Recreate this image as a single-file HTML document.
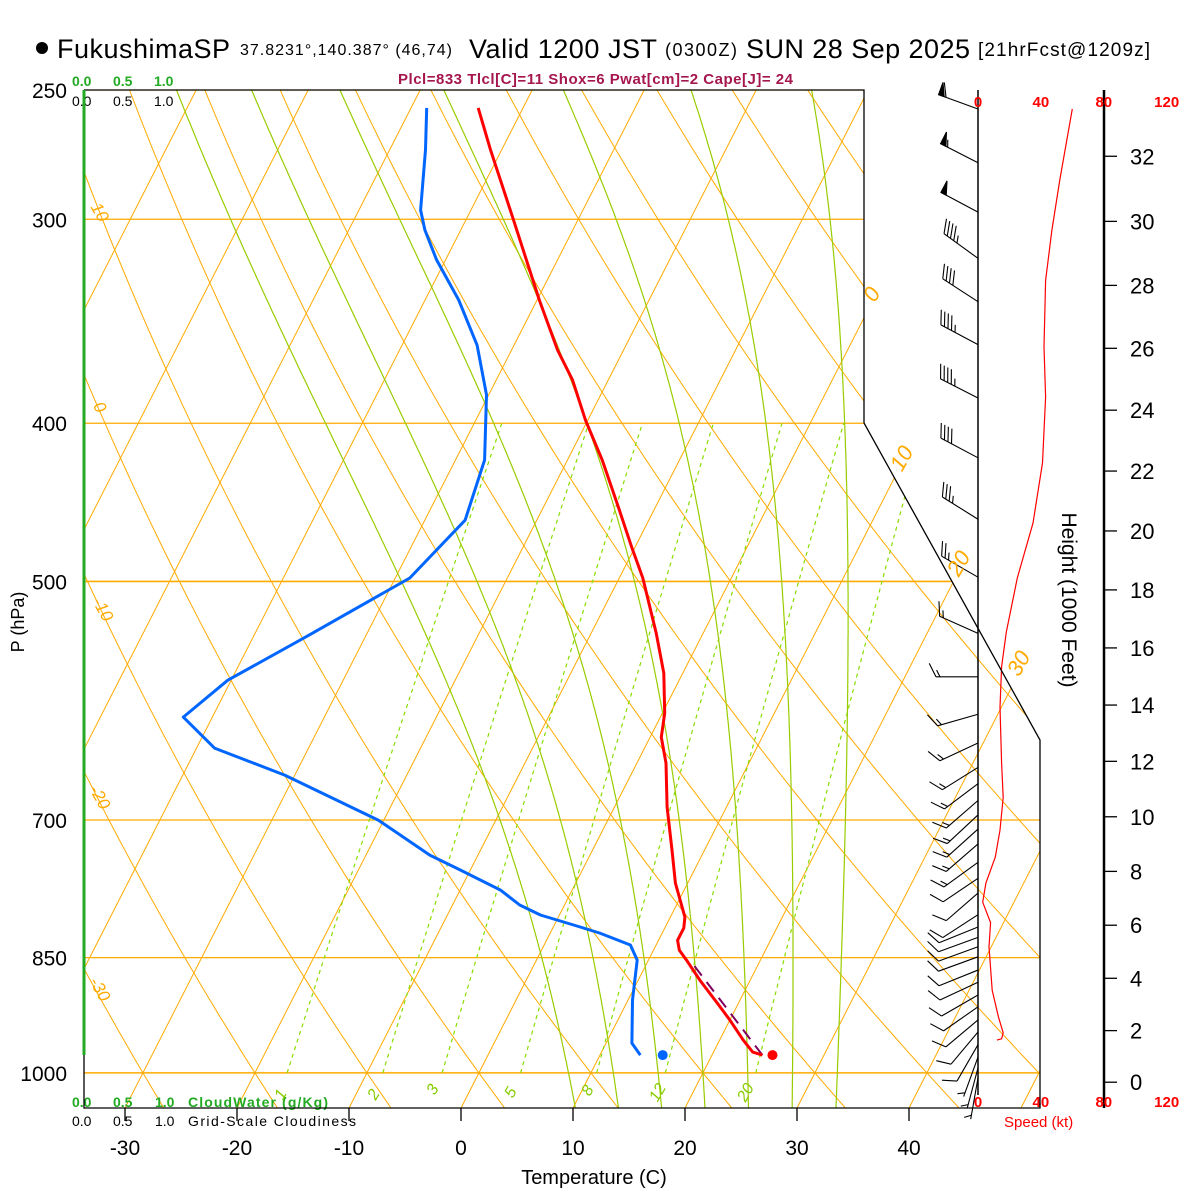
<!DOCTYPE html>
<html><head><meta charset="utf-8"><style>
html,body{margin:0;padding:0;background:#fff;}
svg{display:block;font-family:"Liberation Sans",sans-serif;}
</style></head><body>
<svg id="c" width="1200" height="1200" viewBox="0 0 1200 1200" xmlns="http://www.w3.org/2000/svg">
<defs><clipPath id="pc"><polygon points="84,90 864,90 864,423 1040,740 1040,1108 84,1108"/></clipPath></defs>
<rect x="0" y="0" width="1200" height="1200" fill="#fff"/>
<g id="grid" clip-path="url(#pc)"></g>
<g id="prof"></g>
<g id="wind"></g>
<g id="txt">
<circle cx="42" cy="48" r="6" fill="#000"/>
<text x="57" y="58" font-size="27" textLength="173">FukushimaSP</text>
<text x="240" y="55" font-size="16" textLength="212">37.8231°,140.387° (46,74)</text>
<text x="469" y="58" font-size="27" textLength="188">Valid 1200 JST</text>
<text x="665" y="56" font-size="18" textLength="72">(0300Z)</text>
<text x="746" y="58" font-size="27" textLength="224">SUN 28 Sep 2025</text>
<text x="978" y="56" font-size="19" textLength="172">[21hrFcst@1209z]</text>
<text x="398" y="84" font-size="15" font-weight="bold" fill="#a5164f" textLength="395">Plcl=833 Tlcl[C]=11 Shox=6 Pwat[cm]=2 Cape[J]= 24</text>
<g font-size="14" fill="#22aa22" font-weight="bold">
<text x="72" y="86">0.0</text><text x="113" y="86">0.5</text><text x="154" y="86">1.0</text></g>
<g font-size="14" fill="#000">
<text x="72" y="106">0.0</text><text x="113" y="106">0.5</text><text x="154" y="106">1.0</text></g>
<g font-size="14" fill="#22aa22" font-weight="bold">
<text x="72" y="1107">0.0</text><text x="113" y="1107">0.5</text><text x="155" y="1107">1.0</text><text x="188" y="1107" textLength="140">CloudWater (g/Kg)</text></g>
<g font-size="14" fill="#000">
<text x="72" y="1126">0.0</text><text x="113" y="1126">0.5</text><text x="155" y="1126">1.0</text><text x="188" y="1126" textLength="168">Grid-Scale Cloudiness</text></g>
<text x="594" y="1184" font-size="20" text-anchor="middle">Temperature (C)</text>
<text transform="translate(24,622) rotate(-90)" font-size="18" text-anchor="middle">P (hPa)</text>
<text transform="translate(1062,600) rotate(90)" font-size="21" text-anchor="middle">Height (1000 Feet)</text>
<text x="1004" y="1127" font-size="15" fill="#f00">Speed (kt)</text>
</g>
</svg>
<script>
// ---- data ----
const pressLevels=[250,300,400,500,700,850,1000];
const isoTemps=[-140,-130,-120,-110,-100,-90,-80,-70,-60,-50,-40,-30,-20,-10,0,10,20,30,40,50];
const dryThetas=[-60,-50,-40,-30,-20,-10,0,10,20,30,40,50,60,70,80,90,100,110,120,130];
const mixRatios=[1,2,3,5,8,12,20];
const moistThetaW=[8,12,16,20,24,28,32];
const tempP=[256.4,272,300,336.2,360.7,376.3,398.3,421.3,450.3,476.4,497.6,537.8,569,602,622.8,646,687.4,730.4,765.2,802.8,815.3,829.3,841,852.9,877.3,906.2,928.2,954.8,971.1,975.2];
const tempT=[-44.0,-41.0,-35.8,-29.8,-25.9,-23.2,-20.2,-16.9,-13.3,-10.3,-7.9,-4.2,-1.7,0.2,1.0,2.6,4.7,7.1,8.9,11.3,11.7,11.7,12.3,13.4,15.5,18.1,20.0,22.1,23.5,24.5];
const dewP=[256.4,272,296.1,304.6,317.7,336.2,358.3,384.3,421.3,458.6,497.6,539.3,574.7,605.4,632.5,657,700.1,735.5,751.1,772.7,789.2,800.4,814,821,835,852.9,902.4,958.8,975.2];
const dewT=[-48.6,-46.8,-44.5,-43.2,-40.8,-37.0,-33.3,-30.2,-27.4,-26.4,-28.7,-35.1,-40.3,-42.6,-38.4,-30.9,-20.5,-14.3,-10.9,-6.4,-4.0,-1.7,2.4,4.4,7.7,9.0,10.4,12.3,13.6];
const parcelP=[975.2,852.9];
const parcelT=[24.5,13.7];
const sfcP=975.2, sfcT=25.4, sfcTd=15.6;
const barbP=[256.8,277,297,317,337,358,386,420,458,497,538,572,603,628,650,665,681,695,709,724,743,760,776,800,814,826,837,849,865,880,896,911,928,944,961,978,993,1007];
const barbDir=[290,297,298,306,303,298,297,298,302,300,294,270,254,245,238,233,229,227,228,229,234,236,229,237,248,250,250,250,248,245,240,235,230,220,210,200,195,190];
const barbSpd=[60,55,50,45,40,45,45,40,35,25,15,15,15,15,15,15,15,15,15,15,15,10,10,10,10,10,10,10,10,10,10,10,10,10,10,5,5,5];
const speedP=[256.8,283.8,304.6,327,359.2,385.5,423,460.5,497.6,537,564,597,646,678,710,737.6,765,786,809,837,890,924,945,953,954.8];
const speedKt=[60,52,47,43,42,43,41,35,25,18,15,14,15,16,14,11,5,3,8,7,9,13,16,15,12];
const heightTicks=[0,2,4,6,8,10,12,14,16,18,20,22,24,26,28,30,32];
const tempTicks=[-30,-20,-10,0,10,20,30,40];
const speedTicks=[0,40,80,120];

// ---- axes ----
const NS='http://www.w3.org/2000/svg';
const SK=0.51, XS=11.2, X0=461, YB=1108;
function yP(p){return 90+709*Math.log(p/250);}
function xT(T,p){return X0+XS*T+SK*(YB-yP(p));}
function xSpd(s){return 978+1.5725*s;}
function mk(tag,attrs,parent){const e=document.createElementNS(NS,tag);for(const k in attrs)e.setAttribute(k,attrs[k]);parent.appendChild(e);return e;}
function pts(arr){return arr.map(a=>a[0].toFixed(1)+','+a[1].toFixed(1)).join(' ');}
const grid=document.getElementById('grid'),prof=document.getElementById('prof'),wind=document.getElementById('wind'),txt=document.getElementById('txt');
const OR='#ffaa00';

// isobars
pressLevels.forEach(p=>{const l=mk('line',{x1:84,x2:1040,y1:yP(p),y2:yP(p),stroke:OR,'stroke-width':(p==500||p==1000)?1.6:1.2},grid);

});
// isotherms
isoTemps.forEach(T=>{const l=mk('line',{x1:xT(T,1050),y1:yP(1050),x2:xT(T,250),y2:yP(250),stroke:OR,'stroke-width':1},grid);

});
// dry adiabats
dryThetas.forEach(th=>{const a=[];for(let p=1050;p>=249;p-=10){const T=(th+273.15)*Math.pow(p/1000,0.286)-273.15;a.push([xT(T,p),yP(p)]);}
const l=mk('polyline',{points:pts(a),fill:'none',stroke:OR,'stroke-width':1},grid);

});
// mixing ratio
function tdFromE(e){const L=Math.log(e/6.112);return 243.5*L/(17.67-L);}
mixRatios.forEach(w=>{const a=[];for(let p=1000;p>=399;p-=10){const e=w*p/(622+w);a.push([xT(tdFromE(e),p),yP(p)]);}
const l=mk('polyline',{points:pts(a),fill:'none',stroke:'#88dd00','stroke-width':1.2,'stroke-dasharray':'4,4'},grid);

});
// moist adiabats
function es(T){return 6.112*Math.exp(17.67*T/(T+243.5));}
function dTdp(T,p){const Tk=T+273.15,e=es(T),rs=0.622*e/(p-e),Rd=287,cp=1004,Lv=2.5e6;
return (Rd*Tk+Lv*rs)/(p*(cp+Lv*Lv*rs*0.622/(Rd*Tk*Tk)));}
function integ(T,p0,p1,st){const out=[[T,p0]];let p=p0;while((st<0&&p>p1)||(st>0&&p<p1)){const k1=dTdp(T,p),k2=dTdp(T+k1*st/2,p+st/2);T+=k2*st;p+=st;out.push([T,p]);}return out;}
moistThetaW.forEach(tw=>{const up=integ(tw,1000,250,-2),dn=integ(tw,1000,1050,2);
const all=dn.reverse().concat(up.slice(1));
const l=mk('polyline',{points:pts(all.map(q=>[xT(q[0],q[1]),yP(q[1])])),fill:'none',stroke:'#99cc00','stroke-width':1.2},grid);

});

// frame
const fr=mk('polyline',{points:'84,90 864,90 864,423 1040,740 1040,1108 84,1108 84,1055',fill:'none',stroke:'#000','stroke-width':1.3},txt);


const cw=mk('line',{x1:84,y1:90,x2:84,y2:1055,stroke:'#22aa22','stroke-width':3},txt);



// pressure labels
pressLevels.forEach(p=>{const t=mk('text',{x:67,y:yP(p)+8,'font-size':21,'text-anchor':'end'},txt);t.textContent=p;

});
// temp ticks
tempTicks.forEach(T=>{const x=X0+XS*T;mk('line',{x1:x,x2:x,y1:1108,y2:1121,stroke:'#000','stroke-width':1.3},txt);
const t=mk('text',{x:x,y:1155,'font-size':21,'text-anchor':'middle'},txt);t.textContent=T;

});

// profiles
function prl(P,T,col,w,nm){const l=mk('polyline',{points:pts(P.map((p,i)=>[xT(T[i],p),yP(p)])),fill:'none',stroke:col,'stroke-width':w,'stroke-linejoin':'round'},prof);

}
prl(parcelP,parcelT,'#800060',2,'parcel-path');
prof.lastChild.setAttribute('stroke-dasharray','12,8');
prl(dewP,dewT,'#0066ff',3,'dewpoint-line');
prl(tempP,tempT,'#ff0000',3,'temperature-line');
const d1=mk('circle',{cx:xT(sfcT,sfcP),cy:yP(sfcP),r:5,fill:'#ff0000'},prof);


const d2=mk('circle',{cx:xT(sfcTd,sfcP),cy:yP(sfcP),r:5,fill:'#0066ff'},prof);



// wind panel axes
mk('line',{x1:978,y1:90,x2:978,y2:1095,stroke:'#000','stroke-width':1.5},wind);
mk('line',{x1:1104,y1:90,x2:1104,y2:1108,stroke:'#000','stroke-width':2.5},wind);
speedTicks.forEach(s=>{[107,1107].forEach(yy=>{const t=mk('text',{x:xSpd(s),y:yy,'font-size':15,'font-weight':'bold',fill:'#f00','text-anchor':'middle'},wind);t.textContent=s;

});});
heightTicks.forEach(h=>{const z=h*304.8,p=1013.25*Math.pow(1-2.25577e-5*z,5.25588),y=yP(p);
mk('line',{x1:1104,x2:1117,y1:y,y2:y,stroke:'#000','stroke-width':1.3},wind);
const t=mk('text',{x:1130,y:y+8,'font-size':22},wind);t.textContent=h;

});
// speed curve
const sc=mk('polyline',{points:pts(speedP.map((p,i)=>[xSpd(speedKt[i]),yP(p)])),fill:'none',stroke:'#ff0000','stroke-width':1.2},wind);


// barbs
barbP.forEach((p,i)=>{const g=mk('g',{stroke:'#000','stroke-width':1.1,fill:'#000'},wind);


const y=yP(p),d=barbDir[i]*Math.PI/180,ux=Math.sin(d),uy=-Math.cos(d),L=42;
const tx=978+L*ux,ty=y+L*uy;mk('line',{x1:978,y1:y,x2:tx,y2:ty},g);
const px=-uy,py=ux,bx=(px*0.9+ux*0.45)*15,by=(py*0.9+uy*0.45)*15;
let s=Math.round(barbSpd[i]/5)*5,pos=0;
while(s>=50){const ax=tx-ux*pos,ay=ty-uy*pos,cx=tx-ux*(pos+6),cy=ty-uy*(pos+6);
mk('polygon',{points:`${ax},${ay} ${ax+px*13},${ay+py*13} ${cx},${cy}`},g);pos+=8;s-=50;}
while(s>=10){const ax=tx-ux*pos,ay=ty-uy*pos;mk('line',{x1:ax,y1:ay,x2:ax+bx,y2:ay+by},g);pos+=4;s-=10;}
if(s>=5){if(pos==0)pos=4;const ax=tx-ux*pos,ay=ty-uy*pos;mk('line',{x1:ax,y1:ay,x2:ax+bx/2,y2:ay+by/2},g);}
});

// grid labels
function rlab(s,x,y,rot,size,col,nm){const t=mk('text',{transform:`translate(${x},${y}) rotate(${rot})`,'font-size':size,fill:col,'font-style':'italic','text-anchor':'middle'},txt);t.textContent=s;

}
[['0',878,298],['10',908,462],['20',965,567],['30',1025,667]].forEach(a=>rlab(a[0],a[1],a[2],-60,22,OR,'isotherm-label'));
[['10',95,215],['0',95,410],['-10',98,612],['-20',95,800],['-30',95,992]].forEach(a=>rlab(a[0],a[1],a[2],60,17,OR,'dry-adiabat-label'));
[['1',285,1097],['2',378,1097],['3',437,1092],['5',515,1095],['8',592,1093],['12',662,1095],['20',750,1095]].forEach(a=>rlab(a[0],a[1],a[2],-60,16,'#88cc00','mixing-ratio-label'));
</script>
</body></html>
